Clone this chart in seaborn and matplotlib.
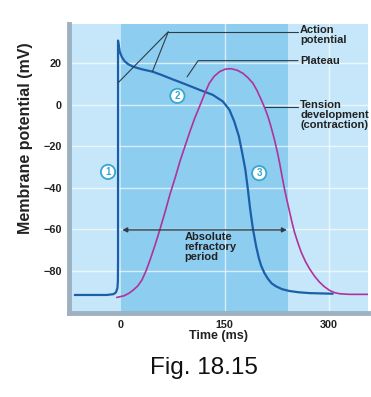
import matplotlib
matplotlib.use("Agg")
import matplotlib.pyplot as plt
import pandas as pd
import seaborn as sns

# Action potential (ms, mV)
ap_time = [-66, -20, -10, -6.5, -4.5, -3.8, -3.6, -3.6, -2.5, -1, 2, 6, 11, 18, 30, 46,
           60, 75, 93, 114, 133, 147.6, 157, 164, 170.7, 175.5, 180, 183.7, 187, 191,
           195.7, 199.5, 203, 207.5, 212.6, 218, 224.6, 233, 243.8, 257, 272.7, 306]
ap_mv = [-91.8, -91.8, -91.4, -90.5, -88.5, -85, -75, 31, 28.5, 25.5, 23, 21, 19.6,
         18.4, 17.2, 16, 14.3, 12.3, 10, 7.2, 4.8, 1.6, -2.4, -8, -15.2, -23.2, -31.2,
         -40.8, -50.4, -60, -68.5, -74, -77.8, -81.2, -84, -86.2, -87.7, -89, -89.9,
         -90.5, -90.9, -91.2]

# Tension development (same axes)
tension_time = [-5.5, 5, 12, 18.5, 25, 31, 37, 43, 50, 57, 64, 71.5, 79, 86, 93, 100,
                107, 114, 121, 128, 135, 143, 151, 159.6, 168, 176.5, 184, 191, 197, 203,
                208, 212.6, 217, 222, 226, 229.4, 233, 236.6, 240, 243, 247, 251, 256,
                260.7, 266.5, 272.7, 280, 287, 294, 301.6, 309, 316, 330, 358]
tension_mv = [-93, -92.2, -91, -89.4, -87.4, -84.5, -80, -74.5, -67.5, -60, -52, -43,
              -35, -27, -20, -13, -6.5, -0.8, 5, 10.4, 13.7, 16, 17.2, 17.4, 16.7, 15.2,
              13, 10.4, 6.8, 2.4, -1.5, -5.6, -10.5, -16.8, -22.5, -28, -34.5, -40.8,
              -46, -50.4, -56.3, -61.6, -66.8, -71.2, -75.5, -79.2, -82.8, -85.6, -87.8,
              -89.6, -90.7, -91.2, -91.5, -91.5]

x_ticks = [0, 150, 300]
y_ticks = [-80, -60, -40, -20, 0, 20]
refractory = (0, 242)

light_bg = "#c6e7f9"
dark_bg = "#8dcdef"
ap_color = "#1b5fa9"
tension_color = "#b0329c"
note_color = "#2f3d48"
circle_color = "#35a8cf"

df = pd.concat([
    pd.DataFrame({"time": ap_time, "mv": ap_mv, "curve": "ap"}),
    pd.DataFrame({"time": tension_time, "mv": tension_mv, "curve": "tension"}),
])

sns.set_style("white")
plt.rcParams["font.family"] = ["Liberation Sans", "DejaVu Sans"]

fig = plt.figure(figsize=(3.71, 3.97), dpi=100)
ax = fig.add_axes([0.186, 0.2116, 0.806, 0.728])
ax.set_facecolor(light_bg)
ax.axvspan(*refractory, color=dark_bg, lw=0, zorder=0)

for y in y_ticks:
    ax.axhline(y, color="white", lw=1.0, alpha=0.65, zorder=1)
for x in x_ticks[1:]:
    ax.axvline(x, color="white", lw=1.0, alpha=0.65, zorder=1)

sns.lineplot(data=df, x="time", y="mv", hue="curve", sort=False, estimator=None,
             palette={"ap": ap_color, "tension": tension_color},
             legend=False, ax=ax, zorder=3)
ax.lines[-2].set_linewidth(1.6)
ax.lines[-1].set_linewidth(1.2)
for ln in ax.lines[-2:]:
    ln.set_solid_joinstyle("round")

ax.set_xlim(-74.3, 357)
ax.set_ylim(-100.5, 39)
ax.set_xticks(x_ticks)
ax.set_yticks(y_ticks)
ax.set_yticklabels([str(v).replace("-", "\u2212") for v in y_ticks])
ax.tick_params(length=0, labelsize=7.8, pad=5)
for lbl in ax.get_xticklabels() + ax.get_yticklabels():
    lbl.set_fontweight("bold")
    lbl.set_color("#222222")

ax.set_xlabel("Time (ms)", fontsize=9, fontweight="bold", labelpad=0, color="#222222")
ax.set_ylabel("Membrane potential (mV)", fontsize=11.5, fontweight="bold",
              labelpad=4, color="#222222")
ax.yaxis.set_label_coords(-0.12, 0.605)

for side in ["top", "right"]:
    ax.spines[side].set_visible(False)
for side in ["left", "bottom"]:
    ax.spines[side].set_color("#9db1c1")
    ax.spines[side].set_linewidth(3.5)

# callouts
kw = dict(color=note_color, lw=0.8, zorder=4, clip_on=False)
ax.plot([-3.6, 69, 46], [10.6, 35.3, 16], **kw)
ax.plot([69, 256], [35.3, 35.3], **kw)
ax.plot([96, 112, 256], [13.5, 21.3, 21.3], **kw)
ax.plot([208, 256], [-1, -1], **kw)

tkw = dict(fontsize=8, fontweight="bold", color="#222222", ha="left",
           linespacing=1.0, zorder=5, clip_on=False)
ax.text(259, 38.6, "Action\npotential", va="top", **tkw)
ax.text(259, 21.3, "Plateau", va="center", **tkw)
ax.text(259, 2.2, "Tension\ndevelopment\n(contraction)", va="top", **tkw)
ax.text(92, -61.5, "Absolute\nrefractory\nperiod", va="top", **tkw)

ax.annotate("", xy=(2.5, -60.4), xytext=(240, -60.4),
            arrowprops=dict(arrowstyle="<|-|>", color=note_color, lw=1.0,
                            mutation_scale=7, shrinkA=0, shrinkB=0), zorder=4)

for num, (tx, ty) in zip(["1", "2", "3"], [(-18, -32.4), (82, 4.3), (200, -33)]):
    ax.text(tx, ty, num, fontsize=7, fontweight="bold", color=circle_color,
            ha="center", va="center", zorder=6,
            bbox=dict(boxstyle="circle,pad=0.22", fc="white", ec=circle_color, lw=1.3))

fig.text(0.551, 0.073, "Fig. 18.15", fontsize=17.5, ha="center", va="center",
         color="#111111")

fig.savefig("out.png", dpi=100)
